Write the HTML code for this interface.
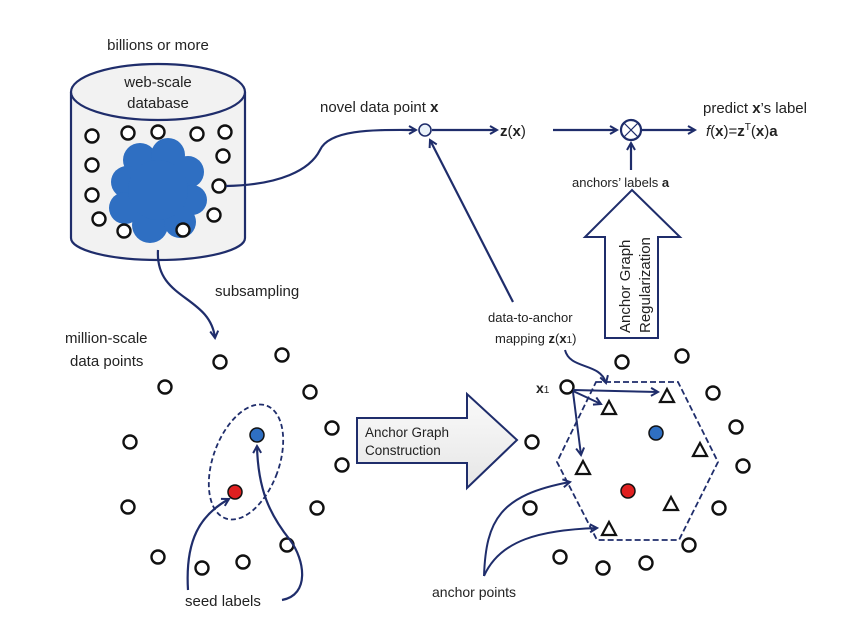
<!DOCTYPE html>
<html><head><meta charset="utf-8"><style>
html,body{margin:0;padding:0;background:#fff}
svg{display:block}
text{font-family:"Liberation Sans",sans-serif;fill:#222}
</style></head><body>
<svg width="852" height="628" viewBox="0 0 852 628" xmlns="http://www.w3.org/2000/svg">
<defs>
<marker id="ah" markerWidth="10" markerHeight="10" refX="8" refY="5" orient="auto" markerUnits="userSpaceOnUse">
<path d="M1,1 L8,5 L1,9" fill="none" stroke="#1f2d6b" stroke-width="2"/>
</marker>
<linearGradient id="g1" x1="0" y1="0" x2="0" y2="1"><stop offset="0" stop-color="#fafafa"/><stop offset="1" stop-color="#e6e6e6"/></linearGradient>
</defs>
<g stroke="#1f2d6b" stroke-width="2.2" fill="none">
<path d="M71,92 L71,238 A87,22 0 0 0 245,238 L245,92" fill="#f2f2f2"/>
<ellipse cx="158" cy="92" rx="87" ry="28" fill="#f2f2f2"/>
</g>
<text x="158" y="50" font-size="15" text-anchor="middle">billions or more</text>
<text x="158" y="87" font-size="15" text-anchor="middle">web-scale</text>
<text x="158" y="108" font-size="15" text-anchor="middle">database</text>
<g fill="#2f6fc2">
<circle cx="140" cy="160" r="17"/><circle cx="168" cy="155" r="17"/><circle cx="188" cy="172" r="16"/>
<circle cx="127" cy="182" r="16"/><circle cx="192" cy="200" r="15"/><circle cx="125" cy="208" r="16"/>
<circle cx="150" cy="225" r="18"/><circle cx="180" cy="222" r="16"/><circle cx="158" cy="190" r="30"/>
</g>
<g fill="#fff" stroke="#111" stroke-width="2.4">
<circle cx="92" cy="136" r="6.5"/><circle cx="128" cy="133" r="6.5"/><circle cx="158" cy="132" r="6.5"/><circle cx="197" cy="134" r="6.5"/><circle cx="225" cy="132" r="6.5"/>
<circle cx="92" cy="165" r="6.5"/><circle cx="223" cy="156" r="6.5"/><circle cx="92" cy="195" r="6.5"/><circle cx="219" cy="186" r="6.5"/>
<circle cx="99" cy="219" r="6.5"/><circle cx="124" cy="231" r="6.5"/><circle cx="183" cy="230" r="6.5"/><circle cx="214" cy="215" r="6.5"/>
</g>
<g stroke="#1f2d6b" stroke-width="2.2" fill="none">
<path d="M226,186 C280,185 310,170 320,150 C330,128 380,130 416,130" marker-end="url(#ah)"/>
<path d="M432,130 L497,130" marker-end="url(#ah)"/>
<path d="M553,130 L617,130" marker-end="url(#ah)"/>
<path d="M641,130 L695,130" marker-end="url(#ah)"/>
<path d="M631,170 L631,143" marker-end="url(#ah)"/>
<path d="M513,302 L430,140" marker-end="url(#ah)"/>
<path d="M158,250 C155,300 210,295 215,338" marker-end="url(#ah)"/>
</g>
<circle cx="425" cy="130" r="6" fill="#eaf2fa" stroke="#1f2d6b" stroke-width="1.6"/>
<circle cx="631" cy="130" r="10" fill="#fff" stroke="#1f2d6b" stroke-width="2.2"/>
<path d="M624,123 L638,137 M638,123 L624,137" stroke="#1f2d6b" stroke-width="1.2"/>
<text x="320" y="112" font-size="15">novel data point <tspan font-weight="bold">x</tspan></text>
<text x="500" y="136" font-size="15"><tspan font-weight="bold">z</tspan>(<tspan font-weight="bold">x</tspan>)</text>
<text x="703" y="113" font-size="15">predict <tspan font-weight="bold">x</tspan>’s label</text>
<text x="706" y="136" font-size="15"><tspan font-style="italic">f</tspan>(<tspan font-weight="bold">x</tspan>)=<tspan font-weight="bold">z</tspan><tspan font-size="10" dy="-6">T</tspan><tspan dy="6">(</tspan><tspan font-weight="bold">x</tspan>)<tspan font-weight="bold">a</tspan></text>
<text x="572" y="187" font-size="13">anchors’ labels <tspan font-weight="bold">a</tspan></text>
<path d="M605,338 L605,237 L585,237 L632,190 L680,237 L658,237 L658,338 Z" fill="#fff" stroke="#1f2d6b" stroke-width="2"/>
<text transform="translate(630,333) rotate(-90)" font-size="15">Anchor Graph</text>
<text transform="translate(650,333) rotate(-90)" font-size="15">Regularization</text>
<text x="488" y="322" font-size="13">data-to-anchor</text>
<text x="495" y="343" font-size="13">mapping <tspan font-weight="bold">z</tspan>(<tspan font-weight="bold">x</tspan><tspan font-size="10">1</tspan>)</text>
<text x="215" y="296" font-size="15">subsampling</text>
<text x="65" y="343" font-size="15">million-scale</text>
<text x="70" y="366" font-size="15">data points</text>
<ellipse cx="246" cy="462" rx="33" ry="60" transform="rotate(20 246 462)" fill="none" stroke="#1f2d6b" stroke-width="1.8" stroke-dasharray="5,3"/>
<g fill="#fff" stroke="#111" stroke-width="2.4">
<circle cx="220" cy="362" r="6.5"/><circle cx="282" cy="355" r="6.5"/><circle cx="165" cy="387" r="6.5"/><circle cx="310" cy="392" r="6.5"/>
<circle cx="130" cy="442" r="6.5"/><circle cx="332" cy="428" r="6.5"/><circle cx="342" cy="465" r="6.5"/><circle cx="128" cy="507" r="6.5"/>
<circle cx="317" cy="508" r="6.5"/><circle cx="158" cy="557" r="6.5"/><circle cx="202" cy="568" r="6.5"/><circle cx="243" cy="562" r="6.5"/><circle cx="287" cy="545" r="6.5"/>
</g>
<circle cx="257" cy="435" r="7" fill="#2f6fc2" stroke="#111" stroke-width="1.5"/>
<circle cx="235" cy="492" r="7" fill="#e02020" stroke="#111" stroke-width="1.5"/>
<g stroke="#1f2d6b" stroke-width="2.2" fill="none">
<path d="M188,590 C185,540 200,515 229,499" marker-end="url(#ah)"/>
<path d="M282,600 C310,595 305,560 290,540 C270,515 258,490 257,446" marker-end="url(#ah)"/>
</g>
<text x="185" y="606" font-size="15">seed labels</text>
<path d="M357,418 L467,418 L467,394 L517,440 L467,488 L467,463 L357,463 Z" fill="url(#g1)" stroke="#1f2d6b" stroke-width="2"/>
<text x="365" y="437" font-size="13.5">Anchor Graph</text>
<text x="365" y="455" font-size="13.5">Construction</text>
<path d="M596,382 L678,382 L718,462 L679,540 L597,540 L557,462 Z" fill="none" stroke="#1f2d6b" stroke-width="1.8" stroke-dasharray="6,3"/>
<g fill="#fff" stroke="#111" stroke-width="2.4">
<circle cx="622" cy="362" r="6.5"/><circle cx="682" cy="356" r="6.5"/><circle cx="567" cy="387" r="6.5"/><circle cx="713" cy="393" r="6.5"/>
<circle cx="532" cy="442" r="6.5"/><circle cx="736" cy="427" r="6.5"/><circle cx="743" cy="466" r="6.5"/><circle cx="530" cy="508" r="6.5"/>
<circle cx="719" cy="508" r="6.5"/><circle cx="689" cy="545" r="6.5"/><circle cx="560" cy="557" r="6.5"/><circle cx="603" cy="568" r="6.5"/><circle cx="646" cy="563" r="6.5"/>
</g>
<g fill="#fff" stroke="#111" stroke-width="2.2">
<path d="M667,389 L674,402 L660,402 Z"/><path d="M609,401 L616,414 L602,414 Z"/><path d="M700,443 L707,456 L693,456 Z"/>
<path d="M583,461 L590,474 L576,474 Z"/><path d="M671,497 L678,510 L664,510 Z"/><path d="M609,522 L616,535 L602,535 Z"/>
</g>
<circle cx="656" cy="433" r="7" fill="#2f6fc2" stroke="#111" stroke-width="1.5"/>
<circle cx="628" cy="491" r="7" fill="#e02020" stroke="#111" stroke-width="1.5"/>
<text x="536" y="393" font-size="14" font-weight="bold">x<tspan font-size="10" font-weight="normal">1</tspan></text>
<g stroke="#1f2d6b" stroke-width="2" fill="none">
<path d="M573,390 L658,392" marker-end="url(#ah)"/>
<path d="M573,391 L601,404" marker-end="url(#ah)"/>
<path d="M573,392 L581,455" marker-end="url(#ah)"/>
<path d="M565,350 C570,370 600,362 606,383" marker-end="url(#ah)"/>
<path d="M484,576 C486,520 500,495 570,482" marker-end="url(#ah)"/>
<path d="M484,576 C500,540 540,530 597,528" marker-end="url(#ah)"/>
</g>
<text x="432" y="597" font-size="14">anchor points</text>
</svg>
</body></html>
